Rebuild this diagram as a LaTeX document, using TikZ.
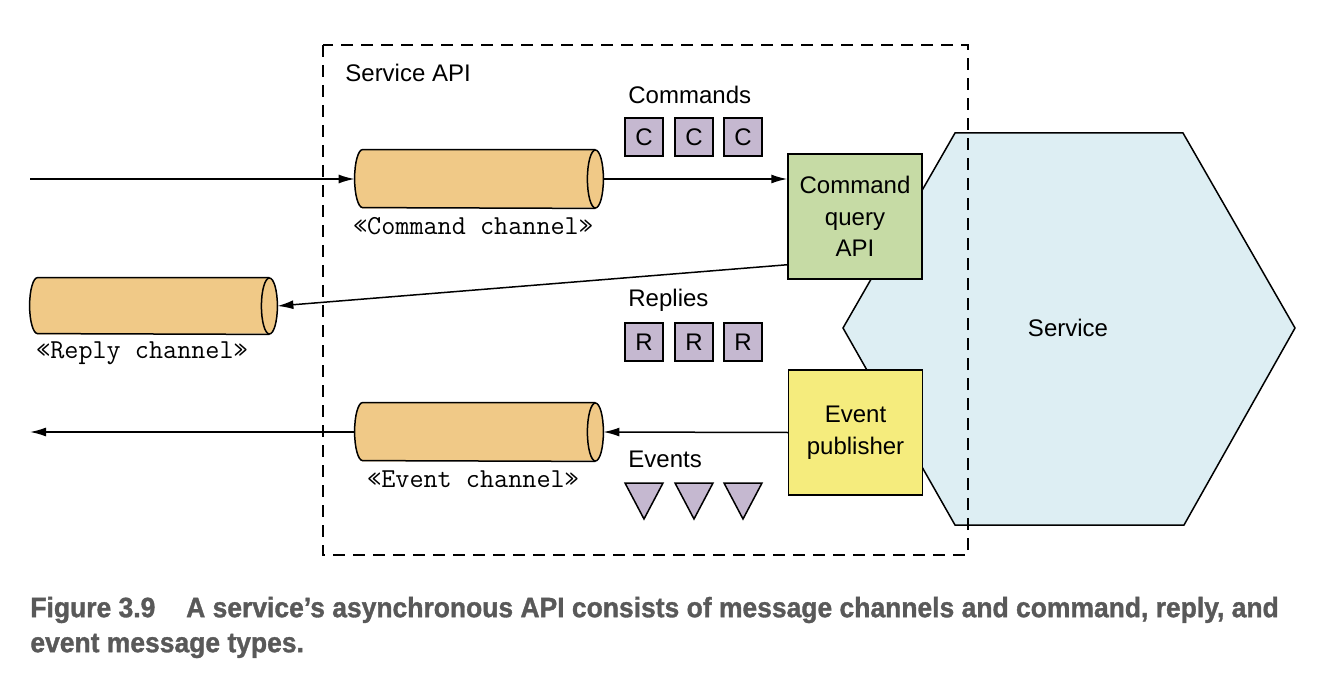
\documentclass[tikz,border=0pt]{standalone}
\usepackage{fontspec}
\setmainfont{Liberation Sans}
\newfontfamily\capf[FakeStretch=0.945,FakeBold=1.2]{Liberation Sans Bold}
\usetikzlibrary{arrows.meta,calc}
\definecolor{cylfill}{HTML}{F0C987}
\definecolor{msgfill}{HTML}{C5B8D0}
\definecolor{cqfill}{HTML}{C6DBA5}
\definecolor{epfill}{HTML}{F5EC7D}
\definecolor{hexfill}{HTML}{DDEEF3}
\definecolor{capgray}{HTML}{595959}
\tikzset{
  lw/.style={line width=0.75pt},
  conn/.style={lw,-{Latex[length=8pt,width=4.5pt]}},
  cylbox/.style={minimum width=124pt,minimum height=29pt,inner sep=0pt},
  msgbox/.style={draw,lw,fill=msgfill,minimum size=19pt,inner sep=0pt,font=\fontsize{12}{14}\selectfont},
  apibox/.style={draw,lw,minimum width=67pt,minimum height=62.5pt,inner sep=0pt,align=center,font=\fontsize{12}{15.75}\selectfont},
  lbl/.style={anchor=west,inner sep=0pt,font=\fontsize{12}{14}\selectfont},
  chlbl/.style={inner sep=0pt,font=\ttfamily\fontsize{13.7}{15}\selectfont},
  evtri/.style={draw,lw,fill=msgfill,line join=miter},
}
\newcommand{\drawcyl}[2]{%
  \fill[cylfill] ([xshift=4pt]#1.north west) -- ([xshift=-4pt]#1.north east)
    arc[start angle=90,end angle=-90,x radius=4pt,y radius=#2]
    -- ([xshift=4pt]#1.south west)
    arc[start angle=-90,end angle=-270,x radius=4pt,y radius=#2] -- cycle;
  \draw[lw] ([xshift=-4pt]#1.north east) -- ([xshift=4pt]#1.north west)
    arc[start angle=90,end angle=270,x radius=4pt,y radius=#2]
    -- ([xshift=-4pt]#1.south east);
  \draw[lw,fill=cylfill] ([xshift=-4pt]#1.east) ellipse[x radius=4pt,y radius=#2];
}
\begin{document}
\begin{tikzpicture}[x=0.5pt,y=-0.5pt]
\path[use as bounding box] (0,0) rectangle (1322,695);

% hexagon (service)
\draw[lw,fill=hexfill] (955,133) -- (1183,133) -- (1295,328) -- (1184,525) -- (955,525) -- (843,328) -- cycle;
\node[inner sep=0pt,font=\fontsize{12}{14}\selectfont] (svc) at (1068,328) {Service};

% dashed service API box
\draw[lw,dash pattern=on 6pt off 4pt] (323,45) rectangle (968,555);
\node[lbl] (sapi) at (345,73) {Service API};

% channels
\node[cylbox] (cc) at (479,179) {};
\drawcyl{cc}{14.5pt}
\node[chlbl] (ccl) at (473,226) {«Command channel»};

\node[cylbox,minimum width=123.5pt,minimum height=28pt] (rc) at (153.5,306) {};
\drawcyl{rc}{14pt}
\node[chlbl] (rcl) at (142,353) {«Reply channel»};

\node[cylbox] (ec) at (479,432) {};
\drawcyl{ec}{14.5pt}
\node[chlbl] (ecl) at (473,479) {«Event channel»};

% API boxes
\node[apibox,fill=cqfill] (cq) at (855,216.5) {Command\\query\\API};
\node[apibox,fill=epfill] (ep) at (855.5,432.5) {Event\\publisher};

% message labels
\node[lbl] (cmdl) at (628,95) {Commands};
\node[msgbox] (c1) at (644,137) {C};
\node[msgbox] (c2) at (694,137) {C};
\node[msgbox] (c3) at (743,137) {C};

\node[lbl] (repl) at (628,300) {Replies};
\node[msgbox] (r1) at (644,342) {R};
\node[msgbox] (r2) at (694,342) {R};
\node[msgbox] (r3) at (743,342) {R};

\node[lbl] (evl) at (628,459) {Events};
\draw[evtri] (625,483) -- (663,483) -- (644,519) -- cycle;
\draw[evtri] (675,483) -- (713,483) -- (694,519) -- cycle;
\draw[evtri] (724,483) -- (762,483) -- (743,519) -- cycle;

% connectors
\coordinate (inC) at (30,179);
\coordinate (outE) at (30,432);
\draw[conn] (inC) -- (cc.west);
\draw[conn] (cc.east) -- (cc.east -| cq.west);
\draw[conn] ($(cq.south west)+(0,-15)$) -- (rc.east);
\draw[conn] (ep.west) -- (ec.east);
\draw[conn] (ec.west) -- (outE);

% caption
\node[anchor=west,inner sep=0pt,align=left,text=capgray,font=\capf\fontsize{14}{17.5}\selectfont] (cap) at (30,627.5)
  {Figure 3.9\hspace{1.1em}A service’s asynchronous API consists of message channels and command, reply, and\\event message types.};
\end{tikzpicture}
\end{document}
